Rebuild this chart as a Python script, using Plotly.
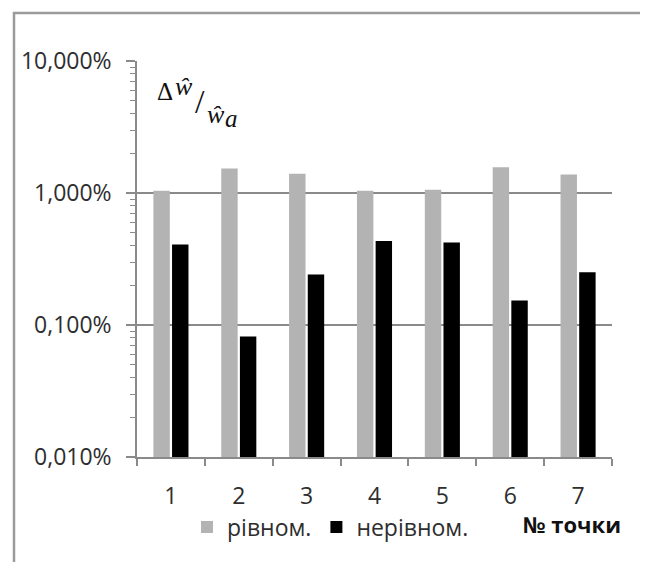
import plotly.graph_objects as go

categories = ["1", "2", "3", "4", "5", "6", "7"]
rivnom = [1.04, 1.53, 1.40, 1.04, 1.06, 1.57, 1.38]      # %
nerivnom = [0.408, 0.082, 0.241, 0.433, 0.421, 0.153, 0.251]  # %
series_names = ["рівном.", "нерівном."]
y_tickvals = [0.01, 0.1, 1, 10]
y_ticktext = ["0,010%", "0,100%", "1,000%", "10,000%"]
y_minor = [m * 10 ** e for e in (-2, -1, 0) for m in range(2, 10)]

FONT = "Open Sans"
GRAY = "#8a8a8a"
TXT = "#2e2e2e"

fig = go.Figure()
fig.add_trace(go.Bar(x=categories, y=rivnom, name=series_names[0],
                     marker=dict(color="#b3b3b3", line=dict(width=0))))
fig.add_trace(go.Bar(x=categories, y=nerivnom, name=series_names[1],
                     marker=dict(color="#000000", line=dict(width=0))))

# page has an 8px body margin -> figure is 640x554 placed at (8,8)
OFF = 8
W, H = 640, 554
L, T = 137 - OFF, 61 - OFF
pw, ph = 475, 396
R, B = W - L - pw, H - T - ph

def px(x):   # page x -> paper
    return (x - 137) / pw

def py(y):   # page y -> paper
    return (457 - y) / ph

fig.update_layout(
    width=W, height=H,
    margin=dict(l=L, r=R, t=T, b=B, pad=0),
    paper_bgcolor="white", plot_bgcolor="white",
    barmode="group", bargap=0.45, bargroupgap=0.12,
    font=dict(family=FONT, size=23, color=TXT),
    showlegend=True,
    legend=dict(orientation="h", x=px(187), y=py(527), xanchor="left", yanchor="middle",
                font=dict(family=FONT, size=23, color=TXT),
                bgcolor="rgba(0,0,0,0)", itemwidth=30, tracegroupgap=0,
                borderwidth=0),
    xaxis=dict(type="category", range=[-0.5, 6.5], showline=True, linecolor=GRAY, linewidth=1.5,
               ticks="outside", tickson="boundaries", ticklen=7, tickcolor=GRAY, tickwidth=1.5,
               showgrid=False, ticklabelstandoff=18,
               tickfont=dict(family=FONT, size=23, color=TXT)),
    yaxis=dict(type="log", range=[-2, 1], showline=True, linecolor=GRAY, linewidth=1.5,
               tickmode="array", tickvals=y_tickvals, ticktext=y_ticktext,
               ticks="outside", ticklen=9, tickcolor=GRAY, tickwidth=1.5,
               showgrid=True, gridcolor=GRAY, gridwidth=1.5, zeroline=False,
               ticklabelstandoff=10,
               tickfont=dict(family=FONT, size=23, color=TXT),
               minor=dict(tickmode="array", tickvals=y_minor, ticks="outside", ticklen=5,
                          tickcolor=GRAY, tickwidth=1, showgrid=False)),
    shapes=[dict(type="rect", xref="paper", yref="paper",
                 x0=px(14), x1=px(644), y0=py(580), y1=py(13),
                 line=dict(color="#9a9a9a", width=2.5), fillcolor="rgba(0,0,0,0)", layer="below")],
)

serif = "Liberation Serif"
ink = "#111111"
ann = [
    dict(text="&#916;", x=px(165), y=py(91), font=dict(family=serif, size=25, color=ink)),
    dict(text="<i>ŵ</i>", x=px(184), y=py(86), font=dict(family=serif, size=26, color=ink)),
    dict(text="/", x=px(200), y=py(101), font=dict(family=serif, size=34, color=ink)),
    dict(text="<i>ŵ</i>", x=px(216), y=py(114), font=dict(family=serif, size=26, color=ink)),
    dict(text="<i>a</i>", x=px(231), y=py(118), font=dict(family=serif, size=25, color=ink)),
    dict(text="<b>№ точки</b>", x=px(572), y=py(524), font=dict(family=FONT, size=22, color="#111111")),
]
for a in ann:
    a.update(xref="paper", yref="paper", showarrow=False, xanchor="center", yanchor="middle")
fig.update_layout(annotations=ann)

fig.write_html("out.html")
